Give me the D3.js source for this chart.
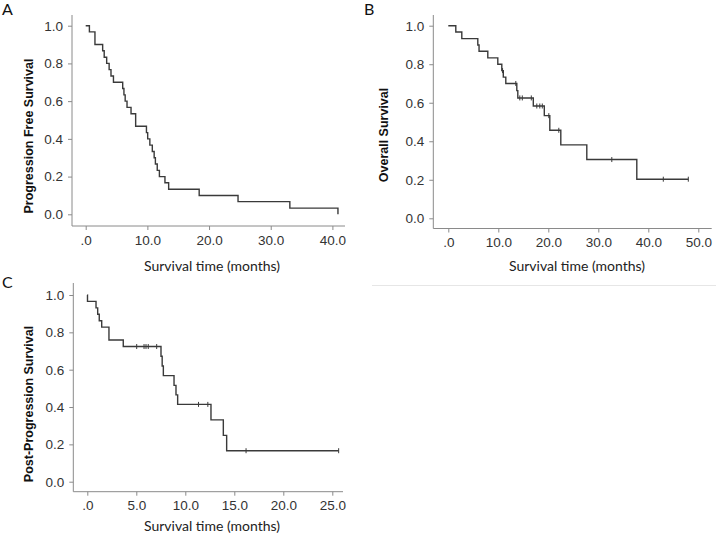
<!DOCTYPE html>
<html>
<head>
<meta charset="utf-8">
<script src="https://cdn.jsdelivr.net/npm/d3@7/dist/d3.min.js"></script>
<style>
  html, body { margin: 0; padding: 0; background: #fff; }
  svg { display: block; }
  .tick text { font-family: "Liberation Sans", Arial, sans-serif; font-size: 13.5px; fill: #333; }
</style>
</head>
<body>
<svg id="chart" width="716" height="534"></svg>
<script>
// ---------- Data ----------
// Panel A: Progression Free Survival (step times in months, survival after each step)
const pfsTimes = [0, 0.6, 1.5, 2.75, 3.0, 3.4, 3.8, 4.1, 4.5, 6.0, 6.2, 6.4, 6.7, 7.35, 8.1, 9.85, 10.05, 10.4, 10.8, 11.1, 11.3, 11.6, 11.95, 12.85, 13.45, 18.4, 24.7, 33.1, 40.9];
const pfsSurv  = [1.0, 0.967, 0.9, 0.867, 0.833, 0.8, 0.767, 0.733, 0.7, 0.667, 0.633, 0.6, 0.567, 0.533, 0.467, 0.433, 0.4, 0.367, 0.333, 0.3, 0.267, 0.233, 0.2, 0.167, 0.133, 0.1, 0.067, 0.033, 0.0];
const pfsEnd = 40.9;
const pfsCensor = [];

// Panel B: Overall Survival
const osTimes = [0, 1.5, 2.7, 5.9, 6.15, 7.9, 9.9, 10.7, 11.0, 11.5, 13.7, 13.9, 17.0, 19.2, 20.3, 22.5, 27.7, 37.7];
const osSurv  = [1.0, 0.967, 0.933, 0.9, 0.867, 0.833, 0.8, 0.767, 0.733, 0.7, 0.663, 0.625, 0.583, 0.533, 0.457, 0.381, 0.305, 0.203];
const osEnd = 48.0;
const osCensor = [10.85, 13.5, 14.3, 14.8, 16.6, 17.7, 18.3, 18.8, 20.1, 22.1, 32.7, 43.0, 48.0];

// Panel C: Post-Progression Survival
const ppsTimes = [0, 0.02, 0.89, 1.06, 1.22, 1.47, 2.21, 3.67, 7.52, 7.64, 7.76, 8.85, 9.05, 9.22, 12.62, 13.88, 14.22];
const ppsSurv  = [1.0, 0.966, 0.931, 0.897, 0.862, 0.828, 0.759, 0.724, 0.672, 0.62, 0.568, 0.516, 0.465, 0.414, 0.331, 0.248, 0.166];
const ppsEnd = 25.65;
const ppsCensor = [5.04, 5.79, 5.99, 6.22, 7.08, 11.35, 12.3, 16.2, 25.65];

// Tick values and labels
const yTickValues = [0, 0.2, 0.4, 0.6, 0.8, 1.0];
const yTickLabels = ["0.0", "0.2", "0.4", "0.6", "0.8", "1.0"];
const xTicksA = [0, 10, 20, 30, 40];
const xLabelsA = [".0", "10.0", "20.0", "30.0", "40.0"];
const xTicksB = [0, 10, 20, 30, 40, 50];
const xLabelsB = [".0", "10.0", "20.0", "30.0", "40.0", "50.0"];
const xTicksC = [0, 5, 10, 15, 20, 25];
const xLabelsC = [".0", "5.0", "10.0", "15.0", "20.0", "25.0"];

const panelLetters = ["A", "B", "C"];
const yTitles = ["Progression Free Survival", "Overall Survival", "Post-Progression Survival"];
const xTitle = "Survival time (months)";

// ---------- Layout ----------
const panels = [
  { letter: panelLetters[0], yTitle: yTitles[0], times: pfsTimes, surv: pfsSurv, end: pfsEnd, censor: pfsCensor,
    xTicks: xTicksA, xLabels: xLabelsA, xDomain: [0, 40], xRange: [85.7, 332.4],
    yRange: [214.3, 25.7], axisLeft: 72, axisRight: 345, axisTop: 15, axisBottom: 226,
    letterPos: [2, 15], yTitleX: 33, yTitleY: 136, xTitleX: 212, xTitleY: 271 },
  { letter: panelLetters[1], yTitle: yTitles[1], times: osTimes, surv: osSurv, end: osEnd, censor: osCensor,
    xTicks: xTicksB, xLabels: xLabelsB, xDomain: [0, 50], xRange: [448.3, 698.3],
    yRange: [218.3, 25.7], axisLeft: 433.3, axisRight: 711.7, axisTop: 15, axisBottom: 228.5,
    letterPos: [364, 15], yTitleX: 388, yTitleY: 135, xTitleX: 577, xTitleY: 271 },
  { letter: panelLetters[2], yTitle: yTitles[2], times: ppsTimes, surv: ppsSurv, end: ppsEnd, censor: ppsCensor,
    xTicks: xTicksC, xLabels: xLabelsC, xDomain: [0, 25], xRange: [87.3, 332.3],
    yRange: [481.7, 295], axisLeft: 73.3, axisRight: 343, axisTop: 283, axisBottom: 491.7,
    letterPos: [2, 288], yTitleX: 33, yTitleY: 404, xTitleX: 212, xTitleY: 531 }
];

const svg = d3.select("#chart");
const axisColor = "#8a8a8a";
const curveColor = "#3a3a3a";

// separator line
svg.append("line").attr("x1", 372).attr("x2", 716).attr("y1", 285.5).attr("y2", 285.5)
  .attr("stroke", "#e6e6e6").attr("stroke-width", 1);

panels.forEach(p => {
  const g = svg.append("g");
  const x = d3.scaleLinear().domain(p.xDomain).range(p.xRange);
  const y = d3.scaleLinear().domain([0, 1]).range(p.yRange);

  // x axis
  const xAxis = d3.axisBottom(x).tickValues(p.xTicks).tickFormat((d, i) => p.xLabels[i])
    .tickSizeInner(4).tickSizeOuter(0).tickPadding(5);
  const gx = g.append("g").attr("transform", `translate(0,${p.axisBottom})`).call(xAxis);
  gx.select(".domain").remove();
  gx.selectAll(".tick line").attr("stroke", axisColor);
  g.append("line").attr("x1", p.axisLeft).attr("x2", p.axisRight)
    .attr("y1", p.axisBottom).attr("y2", p.axisBottom).attr("stroke", axisColor);

  // y axis
  const yAxis = d3.axisLeft(y).tickValues(yTickValues).tickFormat((d, i) => yTickLabels[i])
    .tickSizeInner(4).tickSizeOuter(0).tickPadding(5);
  const gy = g.append("g").attr("transform", `translate(${p.axisLeft},0)`).call(yAxis);
  gy.select(".domain").remove();
  gy.selectAll(".tick line").attr("stroke", axisColor);
  g.append("line").attr("x1", p.axisLeft).attr("x2", p.axisLeft)
    .attr("y1", p.axisTop).attr("y2", p.axisBottom).attr("stroke", axisColor);

  // KM step curve
  const pts = p.times.map((t, i) => [t, p.surv[i]]);
  const last = pts[pts.length - 1];
  if (p.end > last[0]) pts.push([p.end, last[1]]);
  const line = d3.line().x(d => x(d[0])).y(d => y(d[1])).curve(d3.curveStepAfter);
  g.append("path").attr("d", line(pts)).attr("fill", "none")
    .attr("stroke", curveColor).attr("stroke-width", 1.4);

  // censor marks
  const survAt = t => {
    let s = p.surv[0];
    for (let i = 0; i < p.times.length; i++) if (p.times[i] <= t) s = p.surv[i];
    return s;
  };
  g.selectAll(".cens").data(p.censor).enter().append("line")
    .attr("x1", d => x(d)).attr("x2", d => x(d))
    .attr("y1", d => y(survAt(d)) - 2.5).attr("y2", d => y(survAt(d)) + 2.5)
    .attr("stroke", curveColor).attr("stroke-width", 1);

  // titles
  g.append("text").attr("x", p.xTitleX).attr("y", p.xTitleY).attr("text-anchor", "middle")
    .style("font-family", "Lato, 'Open Sans', sans-serif").style("font-size", "14px").attr("fill", "#222")
    .text(xTitle);
  g.append("text").attr("transform", `translate(${p.yTitleX},${p.yTitleY}) rotate(-90)`)
    .attr("text-anchor", "middle")
    .style("font-family", "'Liberation Sans', Arial, sans-serif").style("font-size", "12.5px")
    .style("font-weight", "bold").attr("fill", "#111").text(p.yTitle);
  g.append("text").attr("x", p.letterPos[0]).attr("y", p.letterPos[1])
    .style("font-family", "Lato, 'Open Sans', sans-serif").style("font-size", "16px").attr("fill", "#111")
    .text(p.letter);
});
</script>
</body>
</html>
